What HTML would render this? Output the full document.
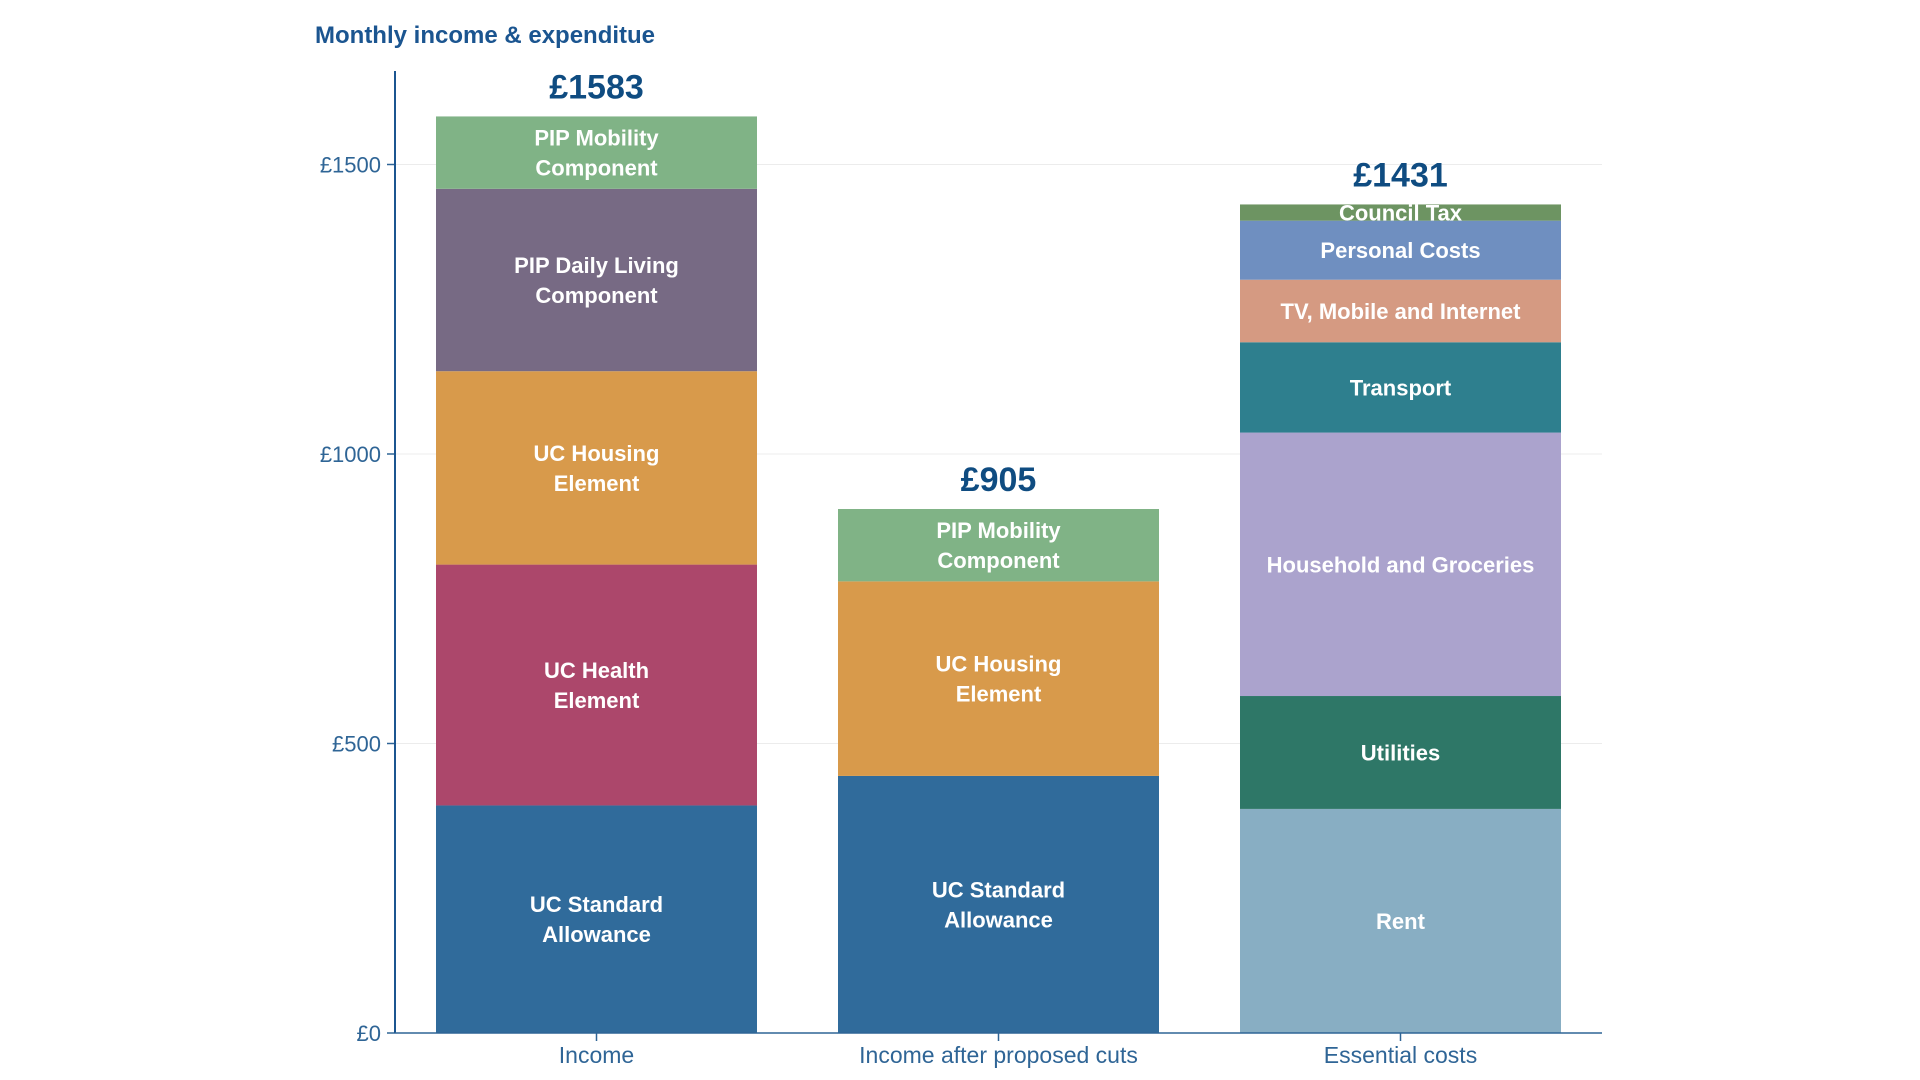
<!DOCTYPE html>
<html><head><meta charset="utf-8"><style>
html,body{margin:0;padding:0;background:#fff;}
svg{display:block;font-family:"Liberation Sans",sans-serif;}
</style></head><body>
<svg id="chart" width="1920" height="1080" viewBox="0 0 1920 1080">
<text x="315" y="43" font-size="24" font-weight="bold" fill="#1b5590">Monthly income &amp; expenditue</text>
<g id="grid"></g><g id="bars"></g><g id="axes"></g>
</svg>
<script>
const categories = ["Income", "Income after proposed cuts", "Essential costs"];
const incomeLabels = ["UC Standard Allowance", "UC Health Element", "UC Housing Element", "PIP Daily Living Component", "PIP Mobility Component"];
const incomeValues = [393, 416, 334, 315, 125];
const cutsLabels = ["UC Standard Allowance", "UC Housing Element", "PIP Mobility Component"];
const cutsValues = [444, 336, 125];
const costLabels = ["Rent", "Utilities", "Household and Groceries", "Transport", "TV, Mobile and Internet", "Personal Costs", "Council Tax"];
const costValues = [387, 195, 455, 156, 108, 102, 28];
const tickValues = [0, 500, 1000, 1500];
const tickLabels = ["£0", "£500", "£1000", "£1500"];

const colorMap = {
 "UC Standard Allowance":"#306b9b","UC Health Element":"#ac476b","UC Housing Element":"#d89a4b",
 "PIP Daily Living Component":"#776a84","PIP Mobility Component":"#80b386","Rent":"#88aec3",
 "Utilities":"#2e7767","Household and Groceries":"#aba3cd","Transport":"#2e7f8e",
 "TV, Mobile and Internet":"#d59a82","Personal Costs":"#6f8fc0","Council Tax":"#6d9462"};
const wrapMap = {"UC Standard Allowance":["UC Standard","Allowance"],"UC Health Element":["UC Health","Element"],
 "UC Housing Element":["UC Housing","Element"],"PIP Daily Living Component":["PIP Daily Living","Component"],
 "PIP Mobility Component":["PIP Mobility","Component"]};

const NS="http://www.w3.org/2000/svg";
const X0=395, X1=1602, Y0=1033, PXU=0.579;
const bandStart=436, bandStep=402, barW=321;
const y = v => Y0 - v*PXU;
const xc = i => bandStart + i*bandStep + barW/2;
function mk(tag, attrs, parent){const e=document.createElementNS(NS,tag);for(const k in attrs)e.setAttribute(k,attrs[k]);parent.appendChild(e);return e;}
function slug(s){return s.toLowerCase().replace(/[^a-z0-9]+/g,'-').replace(/^-|-$/g,'');}

const grid=document.getElementById('grid'), bars=document.getElementById('bars'), axes=document.getElementById('axes');
tickValues.forEach((v,i)=>{
 if(v>0){const g=mk('line',{x1:X0,x2:X1,y1:y(v),y2:y(v),stroke:'#ececec','stroke-width':1},grid);
  
  }
 const t=mk('line',{x1:X0-8,x2:X0,y1:y(v),y2:y(v),stroke:'#2f6596','stroke-width':1.5},axes);
 
 
 const l=mk('text',{x:X0-14,y:y(v)+8,'font-size':22,fill:'#2f6596','text-anchor':'end'},axes);
 l.textContent=tickLabels[i];
 
 
});

const series=[[incomeLabels,incomeValues],[cutsLabels,cutsValues],[costLabels,costValues]];
series.forEach(([labs,vals],ci)=>{
 let acc=0; const x=bandStart+ci*bandStep;
 const g=mk('g',{},bars);
 
 
 vals.forEach((v,si)=>{
  const top=y(acc+v), bot=y(acc);
  const r=mk('rect',{x:x,y:top,width:barW,height:bot-top,fill:colorMap[labs[si]]},g);
  
  
  const lines=(ci<2 && wrapMap[labs[si]])?wrapMap[labs[si]]:[labs[si]];
  const mid=(top+bot)/2;
  lines.forEach((ln,li)=>{
   const t=mk('text',{x:x+barW/2,y:mid+8+(li-(lines.length-1)/2)*30,'font-size':22,'font-weight':'bold',fill:'#fff','text-anchor':'middle'},g);
   t.textContent=ln;
   
   
  });
  acc+=v;
 });
 const tot=mk('text',{x:x+barW/2,y:y(acc)-18,'font-size':34,'font-weight':'bold',fill:'#0f4c81','text-anchor':'middle'},g);
 tot.textContent='£'+acc;
 
 
 const tk=mk('line',{x1:xc(ci),x2:xc(ci),y1:Y0,y2:Y0+8,stroke:'#2f6596','stroke-width':1.5},axes);
 
 
 const cl=mk('text',{x:xc(ci),y:Y0+30,'font-size':23,fill:'#2f6596','text-anchor':'middle'},axes);
 cl.textContent=categories[ci];
 
 
});
const ya=mk('line',{x1:X0,x2:X0,y1:71,y2:Y0,stroke:'#1b5590','stroke-width':2},axes);


const xa=mk('line',{x1:X0,x2:X1,y1:Y0,y2:Y0,stroke:'#2f6596','stroke-width':1.5},axes);


</script>
</body></html>
